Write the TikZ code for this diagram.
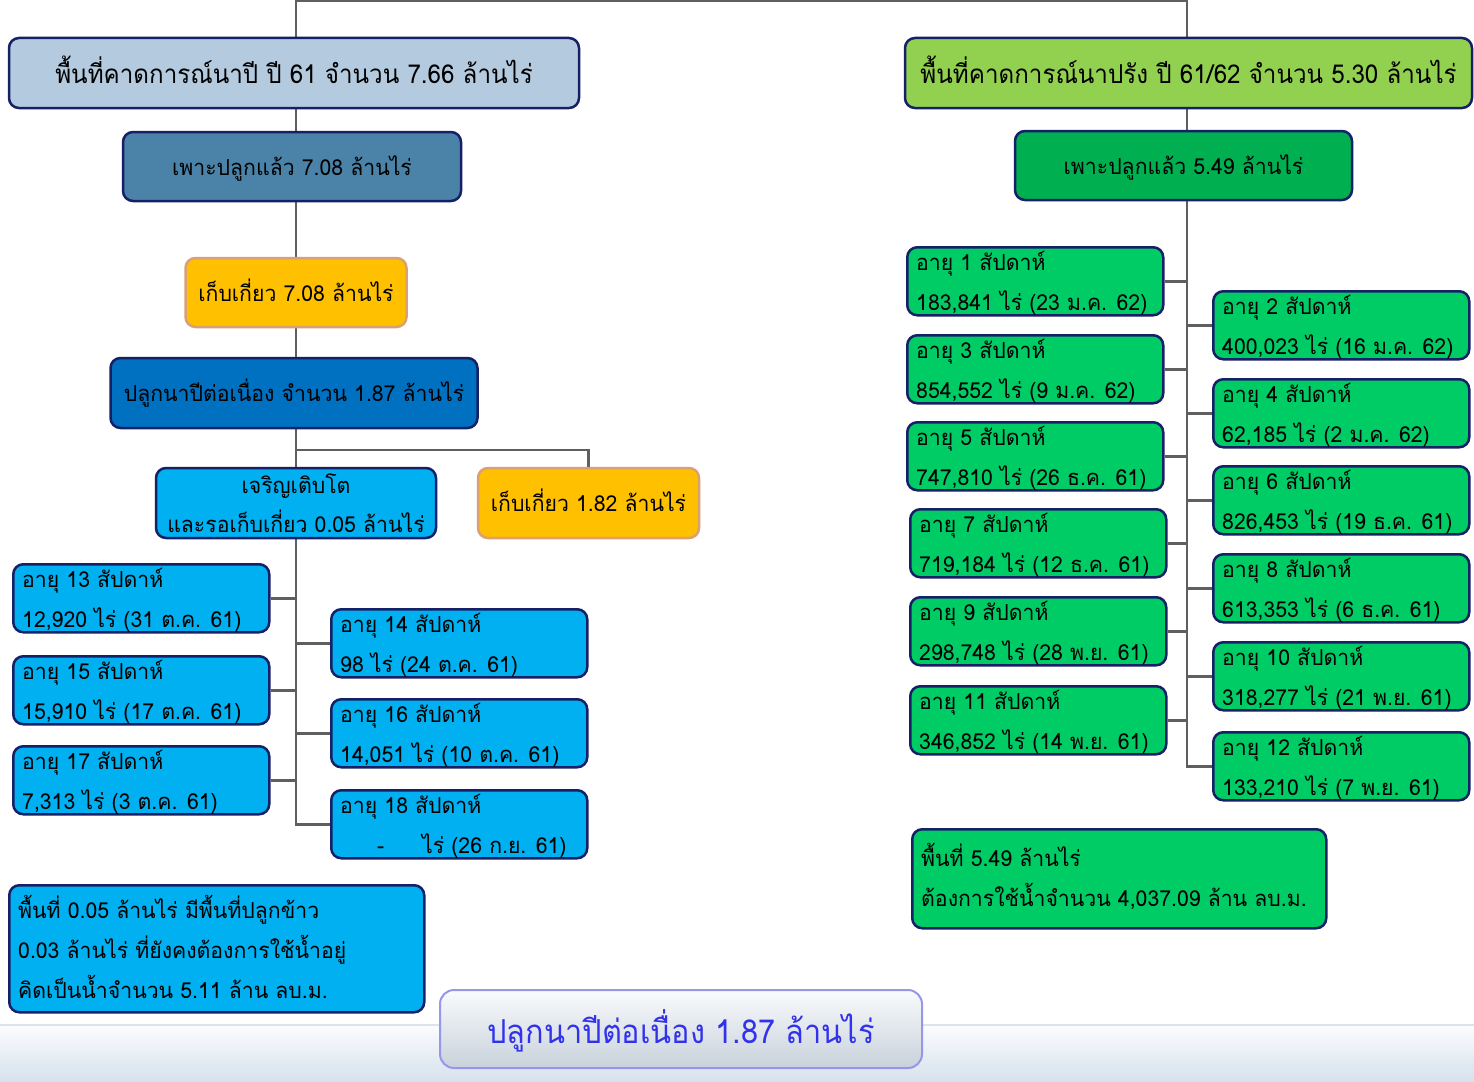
\documentclass[tikz,border=0pt]{standalone}
\usepackage{fontspec}
\setmainfont{Loma}[Script=Thai]
\usetikzlibrary{backgrounds,calc}
\definecolor{navy}{RGB}{22,32,102}
\definecolor{conngray}{RGB}{95,95,95}
\definecolor{lsteel}{RGB}{180,202,222}
\definecolor{msteel}{RGB}{74,131,167}
\definecolor{gold}{RGB}{255,192,0}
\definecolor{tan}{RGB}{218,160,115}
\definecolor{dblue}{RGB}{0,112,192}
\definecolor{cyanbox}{RGB}{0,176,240}
\definecolor{lgreen}{RGB}{146,208,80}
\definecolor{dgreen}{RGB}{0,176,80}
\definecolor{mgreen}{RGB}{0,204,102}
\definecolor{btnborder}{RGB}{150,150,235}
\definecolor{btntext}{RGB}{50,50,235}
\tikzset{
  box/.style={draw=navy, line width=2.5pt, rounded corners=10pt, inner sep=0pt},
  ybox/.style={box, draw=tan, fill=gold},
  conn/.style={draw=conngray, line width=2.5pt},
  txt/.style={inner sep=0pt, font=\fontsize{22}{26}\selectfont\addfontfeatures{FakeStretch=0.965}},
  big/.style={font=\fontsize{26}{30}\selectfont\addfontfeatures{FakeStretch=0.93}, text height=25pt, text depth=4pt},
  mid/.style={font=\fontsize{22}{26}\selectfont\addfontfeatures{FakeStretch=0.965}, text height=21pt, text depth=4pt},
}
\newcommand\twoline[6]{% name, x, y, fill, line1, line2
  \node[box, fill=#4, anchor=north west, minimum width=256, minimum height=68] (#1) at (#2,-#3) {};
  \node[txt, anchor=base west] (#1-a) at ([shift={(10,-24)}]#1.north west) {#5};
  \node[txt, anchor=base west] (#1-b) at ([shift={(10,-64)}]#1.north west) {#6};
}
\begin{document}
\begin{tikzpicture}[x=1pt,y=1pt]
\path[use as bounding box] (0,0) rectangle (1474,-1081);
% ---------- left ----------
\node[box, big, fill=lsteel, minimum width=570, minimum height=70] (A1) at (294,-73) {พื้นที่คาดการณ์นาปี ปี 61 จำนวน 7.66 ล้านไร่};
\node[box, mid, fill=msteel, minimum width=338, minimum height=69] (A2) at (292,-166.5) {เพาะปลูกแล้ว 7.08 ล้านไร่};
\node[ybox, mid, minimum width=221, minimum height=69] (A3) at (296,-292.5) {เก็บเกี่ยว 7.08 ล้านไร่};
\node[box, mid, fill=dblue, minimum width=367, minimum height=70] (A4) at (294,-393) {ปลูกนาปีต่อเนื่อง จำนวน 1.87 ล้านไร่};
\node[box, fill=cyanbox, minimum width=280, minimum height=70] (A5) at (296,-503) {};
\node[txt, anchor=base] (A5-a) at ([yshift=-27]A5.north) {เจริญเติบโต};
\node[txt, anchor=base] (A5-b) at ([yshift=-66]A5.north) {และรอเก็บเกี่ยว 0.05 ล้านไร่};
\node[ybox, mid, minimum width=221, minimum height=70] (A6) at (588.5,-503) {เก็บเกี่ยว 1.82 ล้านไร่};
\coordinate (LT) at (296,-450);

\twoline{w13}{12}{563}{cyanbox}{อายุ 13 สัปดาห์}{12,920 ไร่ (31 ต.ค. 61)}
\twoline{w15}{12}{655}{cyanbox}{อายุ 15 สัปดาห์}{15,910 ไร่ (17 ต.ค. 61)}
\twoline{w17}{12}{745}{cyanbox}{อายุ 17 สัปดาห์}{7,313 ไร่ (3 ต.ค. 61)}
\twoline{w14}{330}{608}{cyanbox}{อายุ 14 สัปดาห์}{98 ไร่ (24 ต.ค. 61)}
\twoline{w16}{330}{698}{cyanbox}{อายุ 16 สัปดาห์}{14,051 ไร่ (10 ต.ค. 61)}
\twoline{w18}{330}{789}{cyanbox}{อายุ 18 สัปดาห์}{\makebox[82pt][l]{\hspace*{37pt}-}ไร่ (26 ก.ย. 61)}

\node[box, fill=cyanbox, anchor=north west, minimum width=415, minimum height=127] (B) at (8,-884) {};
\node[txt, anchor=base west] (B-a) at ([shift={(10,-34)}]B.north west) {พื้นที่ 0.05 ล้านไร่ มีพื้นที่ปลูกข้าว};
\node[txt, anchor=base west] (B-b) at ([shift={(10,-74)}]B.north west) {0.03 ล้านไร่ ที่ยังคงต้องการใช้น้ำอยู่};
\node[txt, anchor=base west] (B-c) at ([shift={(10,-114)}]B.north west) {คิดเป็นน้ำจำนวน 5.11 ล้าน ลบ.ม.};

% ---------- right ----------
\node[box, big, fill=lgreen, minimum width=567, minimum height=70] (C1) at (1188.5,-73) {พื้นที่คาดการณ์นาปรัง ปี 61/62 จำนวน 5.30 ล้านไร่};
\node[box, mid, fill=dgreen, minimum width=337, minimum height=69] (C2) at (1183.5,-165.5) {เพาะปลูกแล้ว 5.49 ล้านไร่};
\coordinate (RT) at (1187,-200);

\twoline{g1}{906}{246}{mgreen}{อายุ 1 สัปดาห์}{183,841 ไร่ (23 ม.ค. 62)}
\twoline{g3}{906}{334}{mgreen}{อายุ 3 สัปดาห์}{854,552 ไร่ (9 ม.ค. 62)}
\twoline{g5}{906}{421}{mgreen}{อายุ 5 สัปดาห์}{747,810 ไร่ (26 ธ.ค. 61)}
\twoline{g7}{909}{508}{mgreen}{อายุ 7 สัปดาห์}{719,184 ไร่ (12 ธ.ค. 61)}
\twoline{g9}{909}{596}{mgreen}{อายุ 9 สัปดาห์}{298,748 ไร่ (28 พ.ย. 61)}
\twoline{g11}{909}{685}{mgreen}{อายุ 11 สัปดาห์}{346,852 ไร่ (14 พ.ย. 61)}
\twoline{g2}{1212}{290}{mgreen}{อายุ 2 สัปดาห์}{400,023 ไร่ (16 ม.ค. 62)}
\twoline{g4}{1212}{378}{mgreen}{อายุ 4 สัปดาห์}{62,185 ไร่ (2 ม.ค. 62)}
\twoline{g6}{1212}{465}{mgreen}{อายุ 6 สัปดาห์}{826,453 ไร่ (19 ธ.ค. 61)}
\twoline{g8}{1212}{553}{mgreen}{อายุ 8 สัปดาห์}{613,353 ไร่ (6 ธ.ค. 61)}
\twoline{g10}{1212}{641}{mgreen}{อายุ 10 สัปดาห์}{318,277 ไร่ (21 พ.ย. 61)}
\twoline{g12}{1212}{731}{mgreen}{อายุ 12 สัปดาห์}{133,210 ไร่ (7 พ.ย. 61)}

\node[box, fill=mgreen, anchor=north west, minimum width=414, minimum height=99] (C3) at (911,-828) {};
\node[txt, anchor=base west] (C3-a) at ([shift={(10,-38)}]C3.north west) {พื้นที่ 5.49 ล้านไร่};
\node[txt, anchor=base west] (C3-b) at ([shift={(10,-78)}]C3.north west) {ต้องการใช้น้ำจำนวน 4,037.09 ล้าน ลบ.ม.};

% ---------- bottom button ----------
\node[draw=btnborder, line width=2pt, rounded corners=14pt, top color=white!92!lsteel, bottom color=lsteel!70!gray!60,
  minimum width=482, minimum height=78, inner sep=0pt, text=btntext,
  font=\fontsize{33}{38}\selectfont\addfontfeatures{FakeStretch=0.93},
  text height=33pt, text depth=4pt] (BTN) at (681,-1029) {ปลูกนาปีต่อเนื่อง 1.87 ล้านไร่};

% ---------- background + connectors ----------
\begin{pgfonlayer}{background}
\fill[white] (0,0) rectangle (1474,-1081);
\shade[top color=white!95!lsteel, bottom color=lsteel!55!white] (0,-1025) rectangle (1474,-1081);
\draw[lsteel!50!white, line width=1.5pt] (0,-1025) -- (1474,-1025);
\draw[conn] (A1.north -| LT) -- ++(0,36) -| (C1.north -| RT);
\draw[conn] (A1.center -| LT) -- (A5.center);
\draw[conn] (A6.north) |- (LT);
\draw[conn] (A5.center) |- (w18.west);
\foreach \n in {w13,w15,w17} \draw[conn] (\n.east) -- (\n.east -| A5.center);
\foreach \n in {w14,w16} \draw[conn] (\n.west) -- (\n.west -| A5.center);
\draw[conn] (C1.center -| RT) -- (RT);
\draw[conn] (RT) |- (g12.west);
\foreach \n in {g1,g3,g5,g7,g9,g11} \draw[conn] (\n.east) -- (\n.east -| RT);
\foreach \n in {g2,g4,g6,g8,g10} \draw[conn] (\n.west) -- (\n.west -| RT);
\end{pgfonlayer}
\end{tikzpicture}
\end{document}
